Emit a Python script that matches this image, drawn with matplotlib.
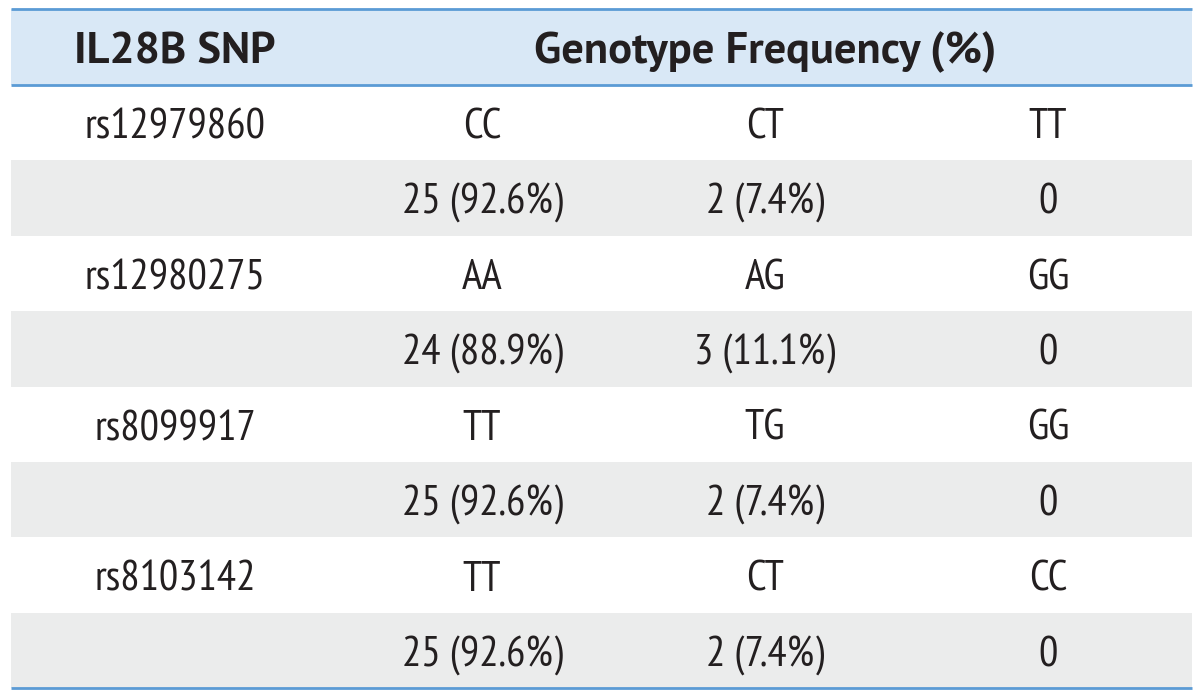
import matplotlib
matplotlib.use("Agg")
import matplotlib.pyplot as plt
from matplotlib.patches import Rectangle

header = ["IL28B SNP", "Genotype Frequency (%)"]
snps = ["rs12979860", "rs12980275", "rs8099917", "rs8103142"]
genotypes = [["CC", "CT", "TT"], ["AA", "AG", "GG"], ["TT", "TG", "GG"], ["TT", "CT", "CC"]]
counts = [["25 (92.6%)", "2 (7.4%)", "0"],
          ["24 (88.9%)", "3 (11.1%)", "0"],
          ["25 (92.6%)", "2 (7.4%)", "0"],
          ["25 (92.6%)", "2 (7.4%)", "0"]]

W, H = 1200, 698
fig = plt.figure(figsize=(W / 100, H / 100), dpi=100)
ax = fig.add_axes([0, 0, 1, 1])
ax.set_xlim(0, W)
ax.set_ylim(H, 0)
ax.axis("off")

left, right = 11, 1192
top, head_bot = 9, 85
row_h = (688 - head_bot) / 8
base_off = 53.5
col_x = [175, 482, 765, 1048]
txt_col = "#231f20"
line_col = "#5b9bd5"
body_kw = dict(ha="center", va="baseline", fontsize=31, family=["PT Sans Narrow", "DejaVu Sans"],
               fontweight="normal", color=txt_col)
head_kw = dict(ha="center", va="baseline", fontsize=32, family=["PT Sans", "DejaVu Sans"],
               fontweight="bold", color=txt_col)

ax.add_patch(Rectangle((left, top), right - left, head_bot - top, facecolor="#d9e8f6", edgecolor="none"))
ax.text(col_x[0], top + 54, header[0], **head_kw)
ax.text(col_x[2], top + 54, header[1], **head_kw)

for i, snp in enumerate(snps):
    y0 = head_bot + 2 * i * row_h
    y1 = y0 + row_h
    ax.add_patch(Rectangle((left, y1), right - left, row_h, facecolor="#ebecec", edgecolor="none"))
    ax.text(col_x[0], y0 + base_off, snp, **body_kw)
    for j in range(3):
        ax.text(col_x[j + 1], y0 + base_off, genotypes[i][j], **body_kw)
        ax.text(col_x[j + 1], y1 + base_off, counts[i][j], **body_kw)

for y in (top, head_bot, 688):
    ax.plot([left, right], [y, y], color=line_col, lw=2, solid_capstyle="butt")

fig.savefig("out.png", dpi=100)
